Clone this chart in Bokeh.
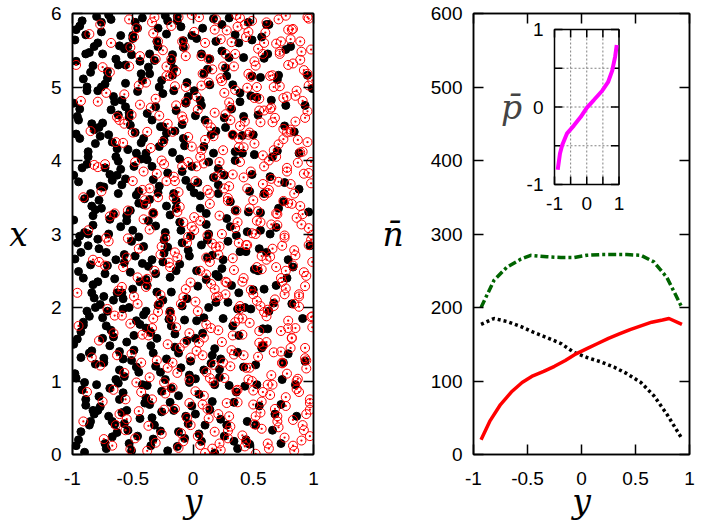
from bokeh.plotting import figure
from bokeh.models import Range1d, LinearAxis, FixedTicker, Label
from bokeh.layouts import row
from bokeh.embed import file_html
from bokeh.resources import INLINE
from bokeh.core.properties import value

# ---------------- data: left panel (points as (y, x)) ----------------
black_points = [
(-0.97,0.12),(-0.85,0.45),(-0.92,0.88),(-0.81,1.23),(-0.96,1.57),(-0.88,1.95),(-0.83,2.31),(-0.98,2.66),(-0.90,3.02),(-0.84,3.38),
(-0.95,3.71),(-0.87,4.05),(-0.82,4.42),(-0.99,4.78),(-0.91,5.11),(-0.86,5.47),(-0.94,5.83),(-0.80,5.96),(-0.93,0.31),(-0.89,0.67),
(-0.97,1.04),(-0.84,1.41),(-0.91,1.76),(-0.82,2.13),(-0.95,2.49),(-0.87,2.84),(-0.99,3.19),(-0.85,3.55),(-0.92,3.90),(-0.81,4.23),
(-0.96,4.60),(-0.88,4.95),(-0.83,5.29),(-0.98,5.64),(-0.90,0.03),(-0.86,1.88),(-0.94,2.97),(-0.80,0.95),(-0.97,4.36),(-0.89,5.71),
(-0.83,3.12),(-0.93,1.32),
(-0.72,0.08),(-0.65,0.41),(-0.78,0.79),(-0.61,1.15),(-0.69,1.48),(-0.75,1.86),(-0.63,2.20),(-0.71,2.57),(-0.79,2.93),(-0.66,3.27),
(-0.74,3.64),(-0.62,3.99),(-0.77,4.33),(-0.68,4.69),(-0.73,5.04),(-0.64,5.38),(-0.76,5.75),(-0.70,5.98),(-0.67,0.24),(-0.79,0.60),
(-0.62,0.97),(-0.74,1.31),(-0.68,1.69),(-0.77,2.04),(-0.65,2.39),(-0.72,2.75),(-0.60,3.10),(-0.78,3.46),(-0.69,3.81),(-0.63,4.16),
(-0.75,4.51),(-0.66,4.87),(-0.71,5.21),(-0.61,5.56),(-0.76,5.88),(-0.64,1.02),(-0.73,2.46),(-0.67,3.73),(-0.79,4.95),(-0.70,0.52),
(-0.62,4.62),(-0.75,1.58),
(-0.53,0.15),(-0.44,0.49),(-0.58,0.84),(-0.47,1.19),(-0.55,1.53),(-0.41,1.90),(-0.50,2.25),(-0.57,2.61),(-0.45,2.96),(-0.52,3.32),
(-0.59,3.67),(-0.43,4.02),(-0.48,4.38),(-0.56,4.73),(-0.42,5.09),(-0.51,5.44),(-0.46,5.80),(-0.54,0.33),(-0.40,0.70),(-0.57,1.06),
(-0.49,1.42),(-0.44,1.77),(-0.58,2.12),(-0.52,2.48),(-0.41,2.83),(-0.55,3.18),(-0.47,3.53),(-0.60,3.88),(-0.43,4.24),(-0.53,4.59),
(-0.46,4.94),(-0.56,5.30),(-0.50,5.66),(-0.42,5.94),(-0.59,0.57),(-0.48,2.70),(-0.54,4.15),(-0.45,3.42),(-0.51,1.28),(-0.57,5.52),
(-0.33,0.21),(-0.26,0.58),(-0.38,0.94),(-0.22,1.30),(-0.35,1.66),(-0.29,2.03),(-0.39,2.38),(-0.24,2.74),(-0.31,3.11),(-0.36,3.47),
(-0.21,3.83),(-0.28,4.19),(-0.34,4.55),(-0.25,4.91),(-0.37,5.27),(-0.30,5.62),(-0.23,5.97),(-0.32,0.40),(-0.39,0.77),(-0.27,1.12),
(-0.35,1.48),(-0.20,1.84),(-0.30,2.21),(-0.37,2.56),(-0.24,2.92),(-0.33,3.29),(-0.28,3.65),(-0.38,4.01),(-0.22,4.37),(-0.31,4.73),
(-0.26,5.09),(-0.36,5.45),(-0.29,5.80),(-0.21,0.05),(-0.34,2.65),(-0.25,4.46),(-0.39,1.95),
(-0.13,0.11),(-0.06,0.52),(-0.18,0.90),(-0.02,1.27),(-0.15,1.64),(-0.09,2.02),(-0.19,2.41),(-0.04,2.78),(-0.11,3.16),(-0.16,3.55),
(-0.01,3.92),(-0.08,4.30),(-0.14,4.68),(-0.05,5.06),(-0.17,5.44),(-0.10,5.82),(-0.12,0.31),(-0.19,0.71),(-0.03,1.08),(-0.15,1.46),
(-0.07,1.83),(-0.18,2.21),(-0.11,2.59),(-0.02,2.97),(-0.14,3.35),(-0.06,3.73),(-0.17,4.11),(-0.09,4.49),(-0.04,4.87),(-0.16,5.25),
(-0.08,5.63),(-0.13,5.96),(-0.01,0.66),(-0.10,3.05),
(0.07,0.18),(0.14,0.61),(0.02,1.03),(0.18,1.44),(0.09,1.86),(0.04,2.29),(0.16,2.71),(0.11,3.13),(0.01,3.56),(0.13,3.98),
(0.19,4.40),(0.06,4.82),(0.12,5.24),(0.03,5.66),(0.17,5.93),(0.10,0.40),(0.05,0.82),(0.15,1.24),(0.08,1.65),(0.19,2.07),
(0.03,2.50),(0.12,2.92),(0.06,3.35),(0.17,3.77),(0.09,4.19),(0.02,4.61),(0.14,5.03),(0.07,5.45),(0.18,0.02),(0.11,2.38),
(0.26,0.25),(0.34,0.71),(0.22,1.16),(0.38,1.62),(0.29,2.07),(0.24,2.53),(0.36,2.98),(0.31,3.44),(0.21,3.89),(0.33,4.35),
(0.39,4.80),(0.27,5.26),(0.35,5.71),(0.23,0.48),(0.30,0.94),(0.37,1.39),(0.25,1.85),(0.32,2.30),(0.39,2.76),(0.28,3.21),
(0.21,3.67),(0.35,4.12),(0.26,4.58),(0.33,5.03),(0.24,5.49),(0.30,5.94),(0.37,0.08),
(0.47,0.14),(0.55,0.66),(0.42,1.19),(0.58,1.71),(0.50,2.24),(0.44,2.76),(0.56,3.29),(0.49,3.81),(0.41,4.34),(0.53,4.86),
(0.59,5.39),(0.46,5.88),(0.52,0.40),(0.43,0.93),(0.57,1.45),(0.48,1.98),(0.54,2.50),(0.45,3.03),(0.59,3.55),(0.51,4.08),
(0.42,4.60),(0.56,5.13),(0.49,5.64),
(0.66,0.33),(0.74,1.02),(0.62,1.71),(0.78,2.40),(0.69,3.09),(0.64,3.78),(0.76,4.47),(0.71,5.16),(0.63,5.85),(0.73,0.68),
(0.79,1.37),(0.67,2.06),(0.61,2.75),(0.75,3.44),(0.70,4.13),(0.65,4.82),(0.77,5.51),
(0.86,0.52),(0.93,1.27),(0.82,2.05),(0.97,2.84),(0.88,3.61),(0.84,4.39),(0.95,5.16),(0.99,4.98),
# second batch
(-0.95,0.20),(-0.82,0.55),(-0.89,0.75),(-0.98,1.10),(-0.86,1.38),(-0.93,1.67),(-0.81,2.00),(-0.91,2.40),(-0.85,2.58),(-0.96,2.88),
(-0.83,3.25),(-0.90,3.48),(-0.99,3.80),(-0.87,4.12),(-0.84,4.50),(-0.94,4.70),(-0.88,5.00),(-0.97,5.35),(-0.82,5.55),(-0.92,5.90),
(-0.86,0.40),(-0.90,0.98),(-0.99,1.50),(-0.84,2.20),(-0.93,2.75),(-0.81,3.33),(-0.88,3.95),(-0.95,4.55),(-0.85,5.20),(-0.97,5.78),
(-0.83,0.60),(-0.91,1.80),(-0.87,3.00),(-0.94,4.30),(-0.89,5.45),
(-0.63,0.30),(-0.77,0.65),(-0.69,0.90),(-0.74,1.25),(-0.61,1.40),(-0.72,1.75),(-0.66,2.10),(-0.79,2.35),(-0.64,2.65),(-0.70,3.00),
(-0.76,3.35),(-0.62,3.55),(-0.73,3.90),(-0.67,4.25),(-0.78,4.45),(-0.65,4.80),(-0.71,5.12),(-0.75,5.45),(-0.60,5.70),(-0.68,5.92),
(-0.73,0.15),(-0.66,1.60),(-0.78,2.80),(-0.63,3.80),(-0.70,4.35),(-0.76,5.00),(-0.61,0.75),(-0.74,2.15),(-0.69,3.20),(-0.79,5.60),
(-0.64,4.05),(-0.71,1.95),(-0.67,0.45),(-0.77,3.65),(-0.62,5.30),
(-0.46,0.25),(-0.55,0.60),(-0.42,0.95),(-0.58,1.30),(-0.49,1.62),(-0.53,2.00),(-0.44,2.35),(-0.57,2.72),(-0.50,3.05),(-0.41,3.40),
(-0.56,3.75),(-0.47,4.10),(-0.52,4.48),(-0.59,4.82),(-0.43,5.18),(-0.54,5.55),(-0.48,5.88),(-0.51,0.05),(-0.45,1.12),(-0.58,1.98),
(-0.42,2.60),(-0.55,3.25),(-0.49,3.92),(-0.53,4.65),(-0.44,5.35),(-0.57,0.42),(-0.47,1.82),(-0.51,2.90),(-0.41,4.30),(-0.56,5.05),
(-0.50,5.70),(-0.45,3.58),(-0.59,2.20),
(-0.27,0.32),(-0.36,0.68),(-0.23,1.02),(-0.33,1.38),(-0.39,1.72),(-0.25,2.10),(-0.31,2.46),(-0.21,2.82),(-0.37,3.18),(-0.29,3.56),
(-0.34,3.92),(-0.24,4.28),(-0.38,4.64),(-0.28,5.00),(-0.32,5.36),(-0.22,5.72),(-0.35,0.12),(-0.26,0.86),(-0.30,1.58),(-0.38,2.30),
(-0.23,3.02),(-0.33,3.74),(-0.27,4.46),(-0.36,5.18),(-0.21,5.90),(-0.31,1.20),(-0.25,2.62),(-0.39,4.10),(-0.29,5.55),(-0.34,0.50),
(-0.22,3.38),
(-0.07,0.22),(-0.16,0.60),(-0.03,0.98),(-0.12,1.38),(-0.18,1.75),(-0.05,2.12),(-0.14,2.50),(-0.09,2.88),(-0.19,3.26),(-0.02,3.64),
(-0.11,4.02),(-0.15,4.40),(-0.06,4.78),(-0.17,5.16),(-0.08,5.54),(-0.13,5.90),(-0.04,0.42),(-0.10,1.18),(-0.19,1.95),(-0.03,2.70),
(-0.14,3.45),(-0.07,4.20),(-0.16,4.95),(-0.01,5.70),(-0.12,0.80),(-0.09,3.85),(-0.18,5.35),(-0.05,1.55),
(0.05,0.28),(0.16,0.72),(0.09,1.15),(0.02,1.58),(0.13,2.00),(0.19,2.45),(0.07,2.85),(0.11,3.28),(0.04,3.70),(0.17,4.10),
(0.10,4.55),(0.01,4.95),(0.14,5.38),(0.08,5.80),(0.18,0.95),(0.03,1.82),(0.12,2.68),(0.06,3.52),(0.15,4.35),(0.09,5.18),
(0.19,5.62),(0.02,0.55),(0.13,3.00),(0.07,4.75),(0.16,1.35),
(0.28,0.40),(0.36,0.85),(0.23,1.30),(0.33,1.75),(0.38,2.20),(0.25,2.65),(0.31,3.10),(0.21,3.55),(0.35,4.00),(0.27,4.45),
(0.39,4.92),(0.30,5.40),(0.24,5.85),(0.34,0.18),(0.22,1.05),(0.37,1.98),(0.29,2.90),(0.26,3.80),(0.32,4.70),(0.38,5.60),
(0.21,2.42),(0.35,3.32),(0.28,5.15),
(0.45,0.45),(0.53,0.95),(0.58,1.48),(0.43,2.00),(0.51,2.52),(0.56,3.05),(0.47,3.58),(0.41,4.10),(0.54,4.62),(0.49,5.15),
(0.57,5.68),(0.44,0.20),(0.52,1.22),(0.59,2.25),(0.46,3.30),(0.50,4.35),(0.42,5.40),(0.55,2.80),(0.48,4.88),
(0.68,0.55),(0.75,1.25),(0.63,1.95),(0.79,2.65),(0.71,3.35),(0.66,4.05),(0.77,4.75),(0.62,5.45),(0.73,0.15),(0.69,2.30),
(0.64,3.00),(0.76,3.70),(0.70,5.10),(0.61,5.85),
(0.85,0.95),(0.91,1.85),(0.83,2.55),(0.96,3.30),(0.88,4.10),(0.93,4.75),(0.81,5.55),
]

red_points = [
(-0.91,0.45),(-0.84,1.32),(-0.96,2.20),(-0.87,3.05),(-0.82,3.94),(-0.93,4.81),(-0.86,5.72),
(-0.74,0.21),(-0.66,0.88),(-0.78,1.55),(-0.62,2.23),(-0.70,2.90),(-0.76,3.58),(-0.64,4.25),(-0.72,4.92),(-0.68,5.60),(-0.61,0.55),
(-0.77,1.21),(-0.65,1.89),(-0.73,2.57),(-0.69,3.24),(-0.79,3.91),(-0.63,4.59),(-0.75,5.27),
(-0.52,0.07),(-0.45,0.59),(-0.57,1.11),(-0.42,1.63),(-0.49,2.15),(-0.55,2.68),(-0.41,3.20),(-0.50,3.72),(-0.58,4.24),(-0.44,4.76),
(-0.53,5.28),(-0.47,5.80),(-0.56,0.33),(-0.43,0.85),(-0.51,1.37),(-0.59,1.89),(-0.46,2.41),(-0.54,2.94),(-0.40,3.46),(-0.48,3.98),
(-0.57,4.50),(-0.45,5.02),(-0.52,5.54),
(-0.31,0.16),(-0.24,0.61),(-0.36,1.05),(-0.21,1.50),(-0.29,1.94),(-0.38,2.39),(-0.26,2.83),(-0.33,3.28),(-0.22,3.72),(-0.35,4.17),
(-0.28,4.61),(-0.39,5.06),(-0.25,5.50),(-0.32,5.95),(-0.37,0.39),(-0.23,0.83),(-0.30,1.28),(-0.34,1.72),(-0.27,2.17),(-0.20,2.61),
(-0.36,3.06),(-0.29,3.50),(-0.24,3.95),(-0.38,4.39),(-0.31,4.84),(-0.22,5.28),(-0.33,5.73),
(-0.12,0.09),(-0.05,0.50),(-0.17,0.91),(-0.02,1.32),(-0.14,1.73),(-0.08,2.14),(-0.19,2.55),(-0.04,2.96),(-0.11,3.37),(-0.16,3.78),
(-0.01,4.19),(-0.09,4.60),(-0.15,5.01),(-0.06,5.42),(-0.18,5.83),(-0.10,0.29),(-0.03,0.70),(-0.13,1.11),(-0.07,1.52),(-0.19,1.93),
(-0.02,2.34),(-0.15,2.75),(-0.08,3.16),(-0.12,3.57),(-0.04,3.98),(-0.17,4.39),(-0.06,4.80),(-0.14,5.21),(-0.09,5.62),(-0.01,5.98),
(0.06,0.13),(0.13,0.49),(0.02,0.86),(0.17,1.22),(0.09,1.59),(0.04,1.95),(0.15,2.32),(0.11,2.68),(0.01,3.05),(0.14,3.41),
(0.19,3.78),(0.07,4.14),(0.12,4.51),(0.03,4.87),(0.16,5.24),(0.10,5.60),(0.05,5.95),(0.18,0.31),(0.08,0.68),(0.14,1.04),
(0.03,1.41),(0.11,1.77),(0.19,2.14),(0.06,2.50),(0.16,2.87),(0.01,3.23),(0.12,3.60),(0.09,3.96),(0.17,4.33),(0.04,4.69),
(0.13,5.06),(0.07,5.42),(0.18,5.78),(0.10,0.02),
(0.23,0.06),(0.31,0.38),(0.37,0.71),(0.26,1.04),(0.34,1.36),(0.21,1.69),(0.39,2.02),(0.28,2.34),(0.33,2.67),(0.24,3.00),
(0.36,3.32),(0.30,3.65),(0.22,3.98),(0.38,4.30),(0.27,4.63),(0.35,4.96),(0.25,5.28),(0.32,5.61),(0.39,5.94),(0.29,0.22),
(0.21,0.55),(0.36,0.87),(0.31,1.20),(0.24,1.53),(0.38,1.85),(0.27,2.18),(0.34,2.51),(0.22,2.83),(0.37,3.16),(0.29,3.49),
(0.33,3.81),(0.25,4.14),(0.39,4.47),(0.30,4.79),(0.23,5.12),(0.35,5.45),(0.28,5.77),
(0.43,0.11),(0.51,0.41),(0.57,0.72),(0.46,1.02),(0.54,1.33),(0.41,1.63),(0.59,1.94),(0.48,2.24),(0.53,2.55),(0.44,2.85),
(0.56,3.16),(0.50,3.46),(0.42,3.77),(0.58,4.07),(0.47,4.38),(0.55,4.68),(0.45,4.99),(0.52,5.29),(0.59,5.60),(0.49,5.90),
(0.41,0.26),(0.56,0.57),(0.50,0.87),(0.44,1.18),(0.58,1.48),(0.47,1.79),(0.53,2.09),(0.42,2.40),(0.57,2.70),(0.49,3.01),
(0.54,3.31),(0.45,3.62),(0.59,3.92),(0.51,4.23),(0.43,4.53),(0.55,4.84),(0.48,5.14),(0.58,5.45),(0.46,5.75),(0.52,0.01),
(0.63,0.08),(0.71,0.37),(0.77,0.66),(0.66,0.95),(0.74,1.24),(0.61,1.53),(0.79,1.82),(0.68,2.11),(0.73,2.40),(0.64,2.69),
(0.76,2.98),(0.70,3.27),(0.62,3.56),(0.78,3.85),(0.67,4.14),(0.75,4.43),(0.65,4.72),(0.72,5.01),(0.79,5.30),(0.69,5.59),
(0.61,5.88),(0.76,0.23),(0.70,0.52),(0.64,0.81),(0.78,1.10),(0.67,1.39),(0.73,1.68),(0.62,1.97),(0.77,2.26),(0.69,2.55),
(0.74,2.84),(0.65,3.13),(0.79,3.42),(0.71,3.71),(0.63,4.00),(0.75,4.29),(0.68,4.58),(0.78,4.87),(0.66,5.16),(0.72,5.45),
(0.60,5.74),(0.77,5.97),
(0.84,0.05),(0.92,0.33),(0.97,0.61),(0.86,0.89),(0.94,1.17),(0.81,1.45),(0.99,1.73),(0.88,2.01),(0.93,2.29),(0.83,2.57),
(0.96,2.85),(0.90,3.13),(0.82,3.41),(0.98,3.69),(0.87,3.97),(0.95,4.25),(0.85,4.53),(0.91,4.81),(0.99,5.09),(0.89,5.37),
(0.81,5.65),(0.96,5.93),(0.90,0.19),(0.83,0.47),(0.97,0.75),(0.87,1.03),(0.93,1.31),(0.82,1.59),(0.98,1.87),(0.88,2.15),
(0.94,2.43),(0.85,2.71),(0.99,2.99),(0.91,3.27),(0.84,3.55),(0.96,3.83),(0.89,4.11),(0.81,4.39),(0.95,4.67),(0.86,4.95),
(0.92,5.23),(0.98,5.51),(0.83,5.79),
# second batch
(-0.88,0.85),(-0.95,1.75),(-0.83,2.65),(-0.91,3.50),(-0.85,4.40),(-0.97,5.30),
(-0.67,0.12),(-0.75,0.72),(-0.63,1.35),(-0.71,1.98),(-0.78,2.62),(-0.65,3.28),(-0.73,3.95),(-0.61,4.55),(-0.69,5.20),(-0.77,5.85),
(-0.64,0.40),(-0.72,2.95),(-0.79,4.80),(-0.66,1.65),
(-0.48,0.22),(-0.56,0.75),(-0.43,1.25),(-0.52,1.78),(-0.59,2.28),(-0.45,2.80),(-0.54,3.32),(-0.41,3.85),(-0.50,4.38),(-0.57,4.90),
(-0.44,5.42),(-0.53,5.92),(-0.47,0.98),(-0.58,2.55),(-0.42,3.60),(-0.51,4.62),(-0.55,0.48),(-0.46,2.05),(-0.49,5.68),
(-0.26,0.28),(-0.34,0.75),(-0.21,1.18),(-0.37,1.62),(-0.28,2.05),(-0.32,2.50),(-0.23,2.95),(-0.39,3.40),(-0.30,3.82),(-0.25,4.25),
(-0.35,4.72),(-0.22,5.15),(-0.29,5.62),(-0.38,0.05),(-0.24,0.98),(-0.33,1.85),(-0.27,2.72),(-0.36,3.62),(-0.21,4.50),(-0.31,5.38),
(-0.39,2.28),(-0.26,4.00),(-0.34,5.88),
(-0.08,0.18),(-0.15,0.62),(-0.03,1.02),(-0.11,1.45),(-0.18,1.85),(-0.06,2.25),(-0.13,2.68),(-0.01,3.10),(-0.16,3.50),(-0.09,3.92),
(-0.04,4.32),(-0.14,4.75),(-0.19,5.15),(-0.07,5.55),(-0.12,5.95),(-0.02,0.40),(-0.17,1.25),(-0.10,2.05),(-0.05,2.88),(-0.15,3.72),
(-0.08,4.55),(-0.18,5.38),(-0.03,1.65),(-0.13,3.30),(-0.06,5.00),
(0.04,0.25),(0.12,0.62),(0.17,0.98),(0.08,1.35),(0.15,1.72),(0.02,2.08),(0.11,2.45),(0.19,2.82),(0.06,3.18),(0.14,3.55),
(0.03,3.92),(0.10,4.28),(0.18,4.65),(0.07,5.02),(0.13,5.38),(0.01,5.75),(0.16,0.08),(0.09,0.80),(0.05,1.52),(0.18,2.25),
(0.12,2.98),(0.02,3.72),(0.15,4.45),(0.08,5.18),(0.19,5.92),(0.06,4.05),(0.11,1.12),(0.14,2.62),
(0.22,0.15),(0.30,0.52),(0.37,0.88),(0.25,1.25),(0.33,1.62),(0.39,1.98),(0.27,2.35),(0.21,2.72),(0.35,3.08),(0.29,3.45),
(0.24,3.82),(0.38,4.18),(0.31,4.55),(0.26,4.92),(0.34,5.28),(0.23,5.65),(0.36,5.98),(0.28,0.70),(0.32,1.42),(0.21,2.15),
(0.38,2.88),(0.26,3.62),(0.33,4.35),(0.24,5.08),(0.37,5.82),(0.29,0.32),(0.35,1.80),(0.22,3.25),(0.31,4.72),(0.39,3.98),
(0.27,5.45),
(0.44,0.18),(0.52,0.52),(0.58,0.85),(0.47,1.18),(0.55,1.52),(0.41,1.85),(0.50,2.18),(0.57,2.52),(0.45,2.85),(0.53,3.18),
(0.59,3.52),(0.48,3.85),(0.42,4.18),(0.56,4.52),(0.51,4.85),(0.46,5.18),(0.54,5.52),(0.43,5.85),(0.57,0.35),(0.49,1.00),
(0.55,1.68),(0.41,2.35),(0.52,3.00),(0.58,3.68),(0.46,4.35),(0.53,5.00),(0.44,5.68),(0.50,0.68),(0.56,2.02),(0.47,3.35),
(0.59,4.68),(0.42,1.35),(0.51,5.35),
(0.62,0.15),(0.70,0.45),(0.77,0.78),(0.65,1.08),(0.73,1.40),(0.79,1.72),(0.67,2.02),(0.74,2.35),(0.61,2.65),(0.76,2.95),
(0.69,3.28),(0.63,3.60),(0.78,3.90),(0.71,4.22),(0.66,4.52),(0.75,4.85),(0.64,5.15),(0.72,5.48),(0.79,5.78),(0.68,0.62),
(0.74,1.25),(0.61,1.88),(0.77,2.50),(0.70,3.12),(0.65,3.75),(0.78,4.38),(0.67,5.00),(0.73,5.62),(0.62,0.95),(0.76,2.18),
(0.69,4.05),(0.64,4.70),(0.71,5.92),(0.75,3.45),(0.66,2.80),
(0.83,0.12),(0.91,0.40),(0.97,0.70),(0.86,1.00),(0.94,1.28),(0.82,1.58),(0.99,1.88),(0.88,2.18),(0.92,2.48),(0.84,2.78),
(0.96,3.08),(0.89,3.38),(0.81,3.68),(0.98,3.98),(0.87,4.28),(0.93,4.58),(0.85,4.88),(0.95,5.18),(0.90,5.48),(0.82,5.78),
(0.97,0.25),(0.88,0.85),(0.93,1.45),(0.84,2.05),(0.99,2.62),(0.86,3.22),(0.92,3.82),(0.81,4.42),(0.96,5.02),(0.89,5.62),
(0.94,0.55),(0.85,1.72),(0.98,2.92),(0.91,4.12),(0.83,5.32),(0.95,5.95),
]

# ---------------- data: right panel ----------------
red_line_y = [-0.93, -0.85, -0.75, -0.65, -0.55, -0.45, -0.35, -0.25, -0.15, -0.05,
              0.05, 0.15, 0.25, 0.35, 0.45, 0.55, 0.65, 0.75, 0.81, 0.93]
red_line_n = [20, 45, 68, 85, 98, 107, 113, 120, 128, 137,
              144, 151, 158, 164, 170, 175, 180, 183, 185, 177]

black_line_y = [-0.93, -0.81, -0.69, -0.56, -0.44, -0.32, -0.19, -0.07,
                0.05, 0.18, 0.30, 0.42, 0.55, 0.67, 0.79, 0.92]
black_line_n = [177, 185, 181, 174, 166, 159, 151, 139,
                132, 126, 119, 110, 98, 80, 55, 24]

green_line_y = [-0.93, -0.81, -0.69, -0.56, -0.47, -0.32, -0.19, -0.07,
                0.05, 0.18, 0.30, 0.42, 0.55, 0.67, 0.79, 0.93]
green_line_n = [200, 237, 255, 266, 271, 269, 268, 268,
                271, 272, 272, 272, 271, 262, 241, 200]

inset_y = [-0.90, -0.83, -0.76, -0.61, -0.40, -0.19, 0.0, 0.22, 0.48, 0.66, 0.79, 0.88, 0.93]
inset_p = [-0.81, -0.60, -0.49, -0.34, -0.24, -0.13, -0.01, 0.09, 0.21, 0.32, 0.47, 0.65, 0.80]

# ---------------- ticks ----------------
y_ticks = [-1.0, -0.5, 0.0, 0.5, 1.0]
y_tick_labels = ["-1", "-0.5", "0", "0.5", "1"]
x_ticks = [0, 1, 2, 3, 4, 5, 6]
n_ticks = [0, 100, 200, 300, 400, 500, 600]
inset_ticks = [-1.0, -0.5, 0.0, 0.5, 1.0]
inset_grid = [-0.5, 0.0, 0.5]
inset_label_ticks = [-1.0, 0.0, 1.0]
inset_label_text = ["-1", "0", "1"]

SANS = "Liberation Sans"
SERIF = "DejaVu Serif"
TICK_SIZE = "19px"
LABEL_SIZE = "33px"


def style_axis(ax, ticks, overrides=None, labels=True):
    ax.ticker = FixedTicker(ticks=ticks)
    ax.major_tick_in = 10
    ax.major_tick_out = 0
    ax.minor_tick_in = 0
    ax.minor_tick_out = 0
    ax.axis_line_color = "black"
    ax.axis_line_width = 1.5
    ax.major_tick_line_color = "black"
    ax.major_tick_line_width = 1.5
    ax.major_label_text_font = SANS
    ax.major_label_text_font_size = TICK_SIZE
    ax.major_label_text_color = "black"
    if labels:
        ax.major_label_standoff = 11
        if overrides:
            ax.major_label_overrides = overrides
    else:
        ax.major_label_standoff = 0
        ax.major_label_overrides = {t: "" for t in ticks}


def axis_title(ax, text, standoff, horizontal=False):
    ax.axis_label = text
    ax.axis_label_text_font = SERIF
    ax.axis_label_text_font_style = "italic"
    ax.axis_label_text_font_size = LABEL_SIZE
    ax.axis_label_text_color = "black"
    ax.axis_label_standoff = standoff
    if horizontal:
        ax.axis_label_orientation = "horizontal"


def make_fig(width, xr, yr, bl, br):
    p = figure(width=width, height=527, x_range=xr, y_range=yr,
               output_backend="svg", toolbar_location=None,
               min_border_left=bl, min_border_right=br,
               min_border_top=13, min_border_bottom=73)
    p.grid.visible = False
    p.outline_line_color = "black"
    p.outline_line_width = 1.5
    p.background_fill_color = "white"
    p.border_fill_color = "white"
    p.add_layout(LinearAxis(), "right")
    p.add_layout(LinearAxis(), "above")
    return p


y_over = {t: s for t, s in zip(y_ticks, y_tick_labels)}

# ---------------- left figure ----------------
p1 = make_fig(358, Range1d(-1, 1), Range1d(0, 6), 72, 45)
style_axis(p1.below[0], y_ticks, y_over)
p1.below[0].major_label_standoff = 17
style_axis(p1.left[0], x_ticks)
style_axis(p1.right[0], x_ticks, labels=False)
style_axis(p1.above[0], y_ticks, labels=False)
axis_title(p1.left[0], "x", 20, horizontal=True)
axis_title(p1.below[0], "y", -6)

by = [pt[0] for pt in black_points]
bx = [pt[1] for pt in black_points]
ry = [pt[0] for pt in red_points]
rx = [pt[1] for pt in red_points]
p1.scatter(by, bx, marker="circle", size=8, fill_color="black", line_color="black")
p1.scatter(ry, rx, marker="circle_dot", size=9, fill_color=None,
           line_color="#ff0000", line_width=1)

# ---------------- right figure ----------------
p2 = make_fig(340, Range1d(-1, 1), Range1d(0, 600), 115, 9)
style_axis(p2.below[0], y_ticks, y_over)
p2.below[0].major_label_standoff = 17
style_axis(p2.left[0], n_ticks)
style_axis(p2.right[0], n_ticks, labels=False)
style_axis(p2.above[0], y_ticks, labels=False)
axis_title(p2.left[0], "n\u0304", 24, horizontal=True)
axis_title(p2.below[0], "y", -6)

p2.line(green_line_y, green_line_n, line_color="#006400", line_width=3.5, line_dash="8 3 3 3")
p2.line(black_line_y, black_line_n, line_color="black", line_width=3.5, line_dash="3 3")
p2.line(red_line_y, red_line_n, line_color="#ff0000", line_width=3.5)

# ---------------- inset (drawn in its own ranges inside the right frame) ----------------
FW, FH = 216.0, 441.0          # right frame size in px
IL, IW = 81.0, 64.5            # inset left offset / width in px
IT, IH = 16.0, 155.0           # inset top offset / height in px
ux = 2.0 / IW
uy = 2.0 / IH
p2.extra_x_ranges = {"ix": Range1d(-1 - IL * ux, 1 + (FW - IL - IW) * ux)}
p2.extra_y_ranges = {"iy": Range1d(-1 - (FH - IT - IH) * uy, 1 + IT * uy)}
INS = dict(x_range_name="ix", y_range_name="iy")

p2.quad(left=[-1], right=[1], bottom=[-1], top=[1], fill_color="white",
        line_color=None, **INS)
p2.segment(x0=inset_grid, y0=[-1] * 3, x1=inset_grid, y1=[1] * 3,
           line_color="#808080", line_width=1, line_dash="2 2", **INS)
p2.segment(x0=[-1] * 3, y0=inset_grid, x1=[1] * 3, y1=inset_grid,
           line_color="#808080", line_width=1, line_dash="2 2", **INS)
tl = 8.0
n_t = len(inset_ticks)
p2.segment(x0=inset_ticks, y0=[-1] * n_t, x1=inset_ticks, y1=[-1 + tl * uy] * n_t,
           line_color="black", line_width=1.5, **INS)
p2.segment(x0=inset_ticks, y0=[1] * n_t, x1=inset_ticks, y1=[1 - tl * uy] * n_t,
           line_color="black", line_width=1.5, **INS)
p2.segment(x0=[-1] * n_t, y0=inset_ticks, x1=[-1 + tl * ux] * n_t, y1=inset_ticks,
           line_color="black", line_width=1.5, **INS)
p2.segment(x0=[1] * n_t, y0=inset_ticks, x1=[1 - tl * ux] * n_t, y1=inset_ticks,
           line_color="black", line_width=1.5, **INS)
p2.quad(left=[-1], right=[1], bottom=[-1], top=[1], fill_color=None,
        line_color="black", line_width=1.5, **INS)

p2.line(inset_y, inset_p, line_color="#ff00ff", line_width=4, **INS)

p2.text(x=inset_label_ticks, y=[-1] * 3, text=inset_label_text, y_offset=12,
        text_align="center", text_baseline="top", text_font=value(SANS),
        text_font_size=TICK_SIZE, text_color="black", **INS)
p2.text(x=[-1] * 3, y=inset_label_ticks, text=inset_label_text, x_offset=-11,
        text_align="right", text_baseline="middle", text_font=value(SANS),
        text_font_size=TICK_SIZE, text_color="black", **INS)
p2.add_layout(Label(x=-1, y=0, x_offset=-43, y_offset=0, text="p\u0304",
                    text_font=SERIF, text_font_style="italic", text_font_size=LABEL_SIZE,
                    text_align="center", text_baseline="alphabetic", **INS))

layout = row(p1, p2)
open("out.html", "w").write(file_html(layout, INLINE))
